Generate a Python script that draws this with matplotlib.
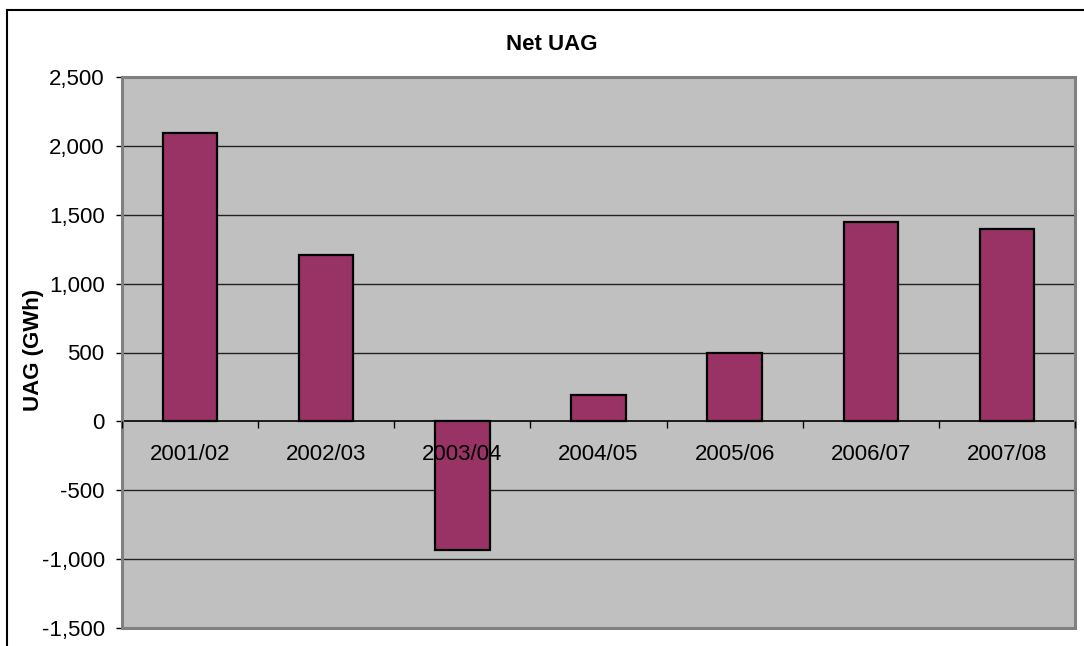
import matplotlib
matplotlib.use("Agg")
import matplotlib.pyplot as plt
from matplotlib.patches import Rectangle
from matplotlib.lines import Line2D
from matplotlib.ticker import FuncFormatter, FixedLocator

plt.rcParams['font.family'] = ['Liberation Sans', 'DejaVu Sans']

categories = ["2001/02", "2002/03", "2003/04", "2004/05", "2005/06", "2006/07", "2007/08"]
values = [2090, 1205, -935, 195, 495, 1450, 1400]
yticks = [-1500, -1000, -500, 0, 500, 1000, 1500, 2000, 2500]
title = "Net UAG"
ylabel = "UAG (GWh)"

W, H = 1084, 646
fig = plt.figure(figsize=(W / 100, H / 100), dpi=100)
fig.patch.set_facecolor("white")

ax = fig.add_axes([122 / W, (H - 628) / H, (1075 - 122) / W, (628 - 77) / H])
ax.set_facecolor("#C0C0C0")

x = list(range(len(categories)))
ax.bar(x, values, width=0.4, color="#993366", edgecolor="black", linewidth=1.6, zorder=3)

ax.set_xlim(-0.5, len(categories) - 0.5)
ax.set_ylim(yticks[0], yticks[-1])
ax.set_yticks(yticks)
ax.yaxis.set_major_formatter(FuncFormatter(lambda v, p: f"{int(v):,}"))
for t in yticks:
    if t not in (0, yticks[0], yticks[-1]):
        ax.axhline(t, color="#222222", linewidth=1.0, zorder=1)

# x axis on zero line
ax.spines['bottom'].set_position(('data', 0))
ax.spines['bottom'].set_color("black")
ax.spines['bottom'].set_linewidth(1.2)
ax.spines['bottom'].set_zorder(4)
for s in ['top', 'right', 'left']:
    ax.spines[s].set_visible(False)
ax.add_patch(Rectangle((0, 0), 1, 1, transform=ax.transAxes, fill=False,
                       edgecolor="#808080", linewidth=2.2, clip_on=False, zorder=5))

ax.set_xticks(x)
ax.set_xticklabels(categories)
ax.xaxis.set_minor_locator(FixedLocator([i - 0.5 for i in range(len(categories) + 1)]))
ax.tick_params(axis='x', which='major', length=0, pad=16, labelsize=16)
ax.tick_params(axis='x', which='minor', length=5, width=1.0, direction='out', color="black")
ax.tick_params(axis='y', which='major', length=4.5, width=1.0, pad=8, labelsize=16, color="black")
ax.xaxis.set_zorder(6)

fig.text(552 / W, 1 - 50 / H, title, ha="center", va="baseline", fontsize=16, fontweight="bold")
fig.text(33 / W, 1 - 350 / H, ylabel, ha="center", va="center", rotation=90, fontsize=16,
         fontweight="bold")

# chart-area frame (left and top edges visible)
fig.add_artist(Line2D([6.5 / W, 6.5 / W], [0, 1 - 9.5 / H], transform=fig.transFigure,
                      color="black", linewidth=1.5))
fig.add_artist(Line2D([6.5 / W, 1], [1 - 9.5 / H, 1 - 9.5 / H], transform=fig.transFigure,
                      color="black", linewidth=1.5))

fig.savefig("out.png", dpi=100)
